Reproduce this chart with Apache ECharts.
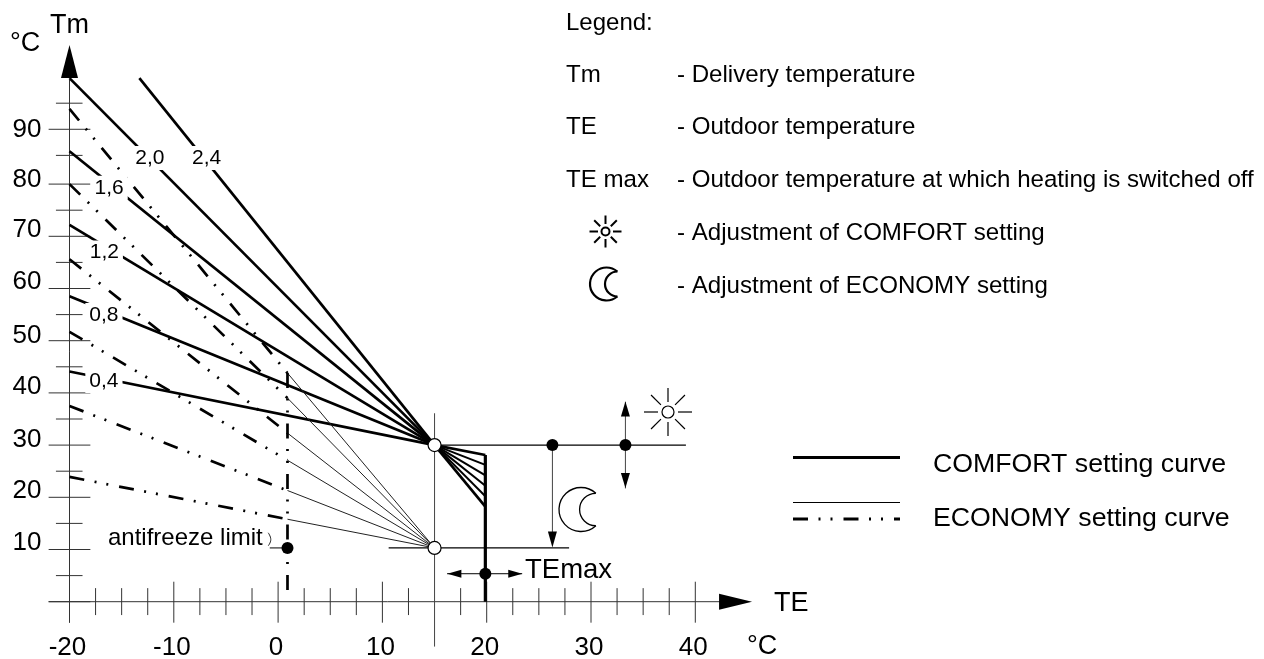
<!DOCTYPE html>
<html>
<head>
<meta charset="utf-8">
<style>
  html, body { margin: 0; padding: 0; background: #fff; }
  #chart { width: 1264px; height: 659px; }
</style>
<script src="https://cdn.jsdelivr.net/npm/echarts@6/dist/echarts.min.js"></script>
</head>
<body>
<div id="chart"></div>
<script>
// curve gains, read left to right on the chart
const curveGains = ['0,4', '0,8', '1,2', '1,6', '2,0', '2,4'];
// comfort curves: start point, all end in the pivot, then fan out to TEmax
const comfortStartX = [-20, -20, -20, -20, -20, -13.3];
const comfortStartY = [44.1, 58.5, 72.2, 86.3, 100.3, 100.3];
const fanEndY = [28.1, 26.2, 24.2, 22.2, 20.2, 18.2];
// economy curves: dashed part down to the antifreeze limit, thin part after
const economyStartY = [23.9, 37.5, 51.7, 65.6, 80, 94.4];
const economyBreakY = [15.8, 21.3, 27.1, 32.3, 39, 43.8];
// where the gain labels sit
const curveLabelX = [-16.7, -16.7, -16.66, -16.2, -12.3, -6.85];
const curveLabelY = [42.3, 54.9, 66.9, 79.3, 85, 85];

const comfortPivot = [15, 30];
const economyPivot = [15, 10.3];
const antifreezeX = 0.9;
const teMaxX = 19.87;
const comfortDotX = 26.3;
const adjustDotX = 33.3;
const teMaxDotY = 5.36;

// ticks, the upper ones are a bit off the scale in the drawing
const xLabelValues = [-20, -10, 0, 10, 20, 30, 40];
const xMajorTicks = [-20, -10, 0, 10, 20, 30, 40];
const xMinorTicks = [-17.5, -15, -12.5, -7.5, -5, -2.5, 2.5, 5, 7.5, 12.5, 17.5, 22.5, 25, 27.5, 32.5, 35, 37.5];
const yMajorTicks = [0, 10, 20, 30, 40, 50, 60, 70, 80, 90.5];
const yMinorTicks = [5, 15, 25, 35, 45, 55, 65, 75, 85.5, 95.5];
const yLabelText = ['10', '20', '30', '40', '50', '60', '70', '80', '90'];
const yLabelPos = [11.2, 21.2, 31.1, 41.1, 50.9, 61.2, 71.2, 80.9, 90.37];

const legendRows = [
  ['Tm', '- Delivery temperature', 75],
  ['TE', '- Outdoor temperature', 127],
  ['TE max', '- Outdoor temperature at which heating is switched off', 180],
  ['', '- Adjustment of COMFORT setting', 233],
  ['', '- Adjustment of ECONOMY setting', 286]
];

const FONT = '"Liberation Sans", Arial, sans-serif';
const DASH = [15, 10.5, 2, 10, 2, 11];
const THICK = 2.7;

function line(data, width, color, dash) {
  return {
    type: 'line', data: data, symbol: 'none', clip: false, silent: true, animation: false, z: 3,
    lineStyle: { width: width, color: color || '#000', type: dash || 'solid', cap: 'butt', join: 'miter' }
  };
}
function marks(data, symbol, size, rotate, fill, stroke) {
  return {
    type: 'scatter', data: data, symbol: symbol, symbolSize: size, symbolRotate: rotate || 0,
    clip: false, silent: true, animation: false, z: 6,
    itemStyle: { color: fill || '#000', borderColor: stroke || fill || '#000', borderWidth: stroke ? 1.2 : 0, opacity: 1 }
  };
}
function text(str, x, y, size, align) {
  return {
    type: 'text', x: x, y: y, silent: true, z: 20,
    style: { text: str, font: size + 'px ' + FONT, fill: '#000', textAlign: align || 'left', textVerticalAlign: 'middle' }
  };
}

const series = [];

// axes with their crossing ticks
series.push(line([[-22, 0], [43, 0]], 1, '#333'));
series.push(line([[-20, -4], [-20, 100]], 1, '#333'));
let tickData = [];
xMajorTicks.forEach(function (v) { tickData.push([v, 3.83], [v, -4.02], ['-', '-']); });
xMinorTicks.forEach(function (v) { tickData.push([v, 2.6], [v, -2.56], ['-', '-']); });
yMajorTicks.forEach(function (v) { tickData.push([-22, v], [-18, v], ['-', '-']); });
yMinorTicks.forEach(function (v) { tickData.push([-21.3, v], [-18.75, v], ['-', '-']); });
series.push(line(tickData, 1, '#333'));
series.push(marks([[-20, 103.5]], 'triangle', [17, 33]));
series.push(marks([[43.86, 0]], 'triangle', [16, 33], -90));

// comfort curves and the fan behind the pivot
curveGains.forEach(function (g, i) {
  series.push(line([[comfortStartX[i], comfortStartY[i]], comfortPivot], THICK));
  let w = (i == 0 || i == 5) ? THICK : 2;
  series.push(line([comfortPivot, [teMaxX, fanEndY[i]]], w));
  // economy curves
  series.push(line([[-20, economyStartY[i]], [antifreezeX, economyBreakY[i]]], THICK, '#000', DASH));
  series.push(line([[antifreezeX, economyBreakY[i]], economyPivot], 1, '#222'));
});

// antifreeze limit and TEmax verticals
series.push(line([[antifreezeX, 43.8], [antifreezeX, 1]], THICK, '#000', DASH));
series.push(line([[teMaxX, fanEndY[0]], [teMaxX, 0]], 3.2));
series.push(line([[-0.8, 10.3], [antifreezeX, 10.3]], 1));
series.push({
  type: 'line', data: [[-0.95, 13.2], [-0.7, 11.9], [-0.95, 10.7]], smooth: true, symbol: 'none',
  clip: false, silent: true, animation: false, lineStyle: { width: 1, color: '#222' }
});

// pivot lines and arrows
series.push(line([comfortPivot, [39.1, 30]], 1.2));
series.push(line([[10.6, 10.3], [27.9, 10.3]], 1.2));
series.push(line([[15, 36.1], [15, -8.6]], 1, '#444'));
series.push(line([[comfortDotX, 30], [comfortDotX, 11]], 1, '#444'));
series.push(marks([[comfortDotX, 11.9]], 'triangle', [9, 16], 180));
series.push(line([[adjustDotX, 38.3], [adjustDotX, 21.7]], 1, '#444'));
series.push(marks([[adjustDotX, 36.9]], 'triangle', [9, 15]));
series.push(marks([[adjustDotX, 23.2]], 'triangle', [9, 15], 180));
series.push(line([[16.2, teMaxDotY], [23.4, teMaxDotY]], 1));
series.push(marks([[16.9, teMaxDotY]], 'triangle', [8, 14], 90));
series.push(marks([[22.74, teMaxDotY]], 'triangle', [8, 14], -90));

// dots
series.push(marks([[comfortDotX, 30], [adjustDotX, 30], [teMaxX, teMaxDotY], [antifreezeX, 10.3]], 'circle', 12));
series.push(marks([comfortPivot, economyPivot], 'circle', 13, 0, '#fff', '#000'));

// gain labels with white box that cuts the curves
series.push({
  type: 'scatter', symbolSize: 1, clip: false, silent: true, animation: false, z: 5,
  itemStyle: { color: '#fff', opacity: 1 },
  data: curveGains.map(function (g, i) { return { value: [curveLabelX[i], curveLabelY[i]], name: g }; }),
  label: {
    show: true, position: 'inside', formatter: '{b}', color: '#000', opacity: 1, fontFamily: FONT, fontSize: 21,
    backgroundColor: '#fff', padding: [2, 4, 1, 4]
  }
});

// legend and icons
const graphic = [
  text('Tm', 50, 26, 27), text('°C', 10, 44, 27),
  text('TE', 774, 604, 27), text('°C', 747, 647, 27),
  text('TEmax', 525, 570, 27.5), text('antifreeze limit', 108, 538, 24),
  text('Legend:', 566, 23, 24),
  text('COMFORT setting curve', 933, 465, 26.7), text('ECONOMY setting curve', 933, 519, 26.7),
  { type: 'line', z: 20, silent: true, shape: { x1: 793, y1: 457.5, x2: 900, y2: 457.5 }, style: { stroke: '#000', lineWidth: 3 } },
  { type: 'line', z: 20, silent: true, shape: { x1: 793, y1: 502.5, x2: 900, y2: 502.5 }, style: { stroke: '#000', lineWidth: 1 } },
  { type: 'line', z: 20, silent: true, shape: { x1: 793, y1: 519, x2: 900, y2: 519 }, style: { stroke: '#000', lineWidth: 3, lineDash: DASH } }
];
legendRows.forEach(function (r) {
  if (r[0]) graphic.push(text(r[0], 566, r[2], 24.1));
  graphic.push(text(r[1], 677, r[2], 24.1));
});
function sun(cx, cy, r, r1, r2, w) {
  graphic.push({ type: 'circle', z: 20, silent: true, shape: { cx: cx, cy: cy, r: r }, style: { fill: '#fff', stroke: '#000', lineWidth: w } });
  for (let k = 0; k < 8; k++) {
    let a = k * Math.PI / 4;
    graphic.push({
      type: 'line', z: 20, silent: true,
      shape: { x1: cx + r1 * Math.cos(a), y1: cy + r1 * Math.sin(a), x2: cx + r2 * Math.cos(a), y2: cy + r2 * Math.sin(a) },
      style: { stroke: '#000', lineWidth: w }
    });
  }
}
function moon(cx, cy, r, cx2, r2, half, w) {
  let a = Math.asin(half / r);
  graphic.push({ type: 'arc', z: 20, silent: true, shape: { cx: cx, cy: cy, r: r, startAngle: a, endAngle: 2 * Math.PI - a, clockwise: true }, style: { fill: 'none', stroke: '#000', lineWidth: w } });
  graphic.push({ type: 'arc', z: 20, silent: true, shape: { cx: cx2, cy: cy, r: r2, startAngle: Math.PI / 2, endAngle: 3 * Math.PI / 2, clockwise: true }, style: { fill: 'none', stroke: '#000', lineWidth: w } });
}
sun(668, 412, 6, 10, 24, 1.2);
sun(605.5, 231.5, 4, 7.5, 16, 2);
moon(581, 509.5, 22, 595.8, 16.2, 16.2, 1.3);
moon(606.5, 284, 16.5, 617.5, 12.5, 12.5, 2.2);

const chart = echarts.init(document.getElementById('chart'), null, { renderer: 'canvas' });
chart.setOption({
  animation: false,
  backgroundColor: '#fff',
  tooltip: { show: false },
  // the grid runs past the drawn axes so the overhanging ticks and arrows are not cut
  grid: { left: 17.35, width: 782.25, top: 79.7, height: 522, containLabel: false, outerBoundsMode: 'none' },
  xAxis: {
    type: 'value', min: -25, max: 50,
    splitLine: { show: false }, axisLine: { show: false, onZero: false }, axisTick: { show: false },
    axisLabel: { show: true, color: '#000', fontFamily: FONT, fontSize: 26, margin: 33, padding: [0, 4, 0, 0], customValues: xLabelValues }
  },
  yAxis: {
    type: 'value', min: 0, max: 100,
    position: 'left', offset: -52.15,
    splitLine: { show: false }, axisLine: { show: false, onZero: false }, axisTick: { show: false },
    axisLabel: {
      show: true, color: '#000', fontFamily: FONT, fontSize: 26, margin: 28,
      customValues: yLabelPos,
      formatter: function (v) { return yLabelText[yLabelPos.indexOf(v)]; }
    }
  },
  series: series,
  graphic: graphic
});
</script>
</body>
</html>
